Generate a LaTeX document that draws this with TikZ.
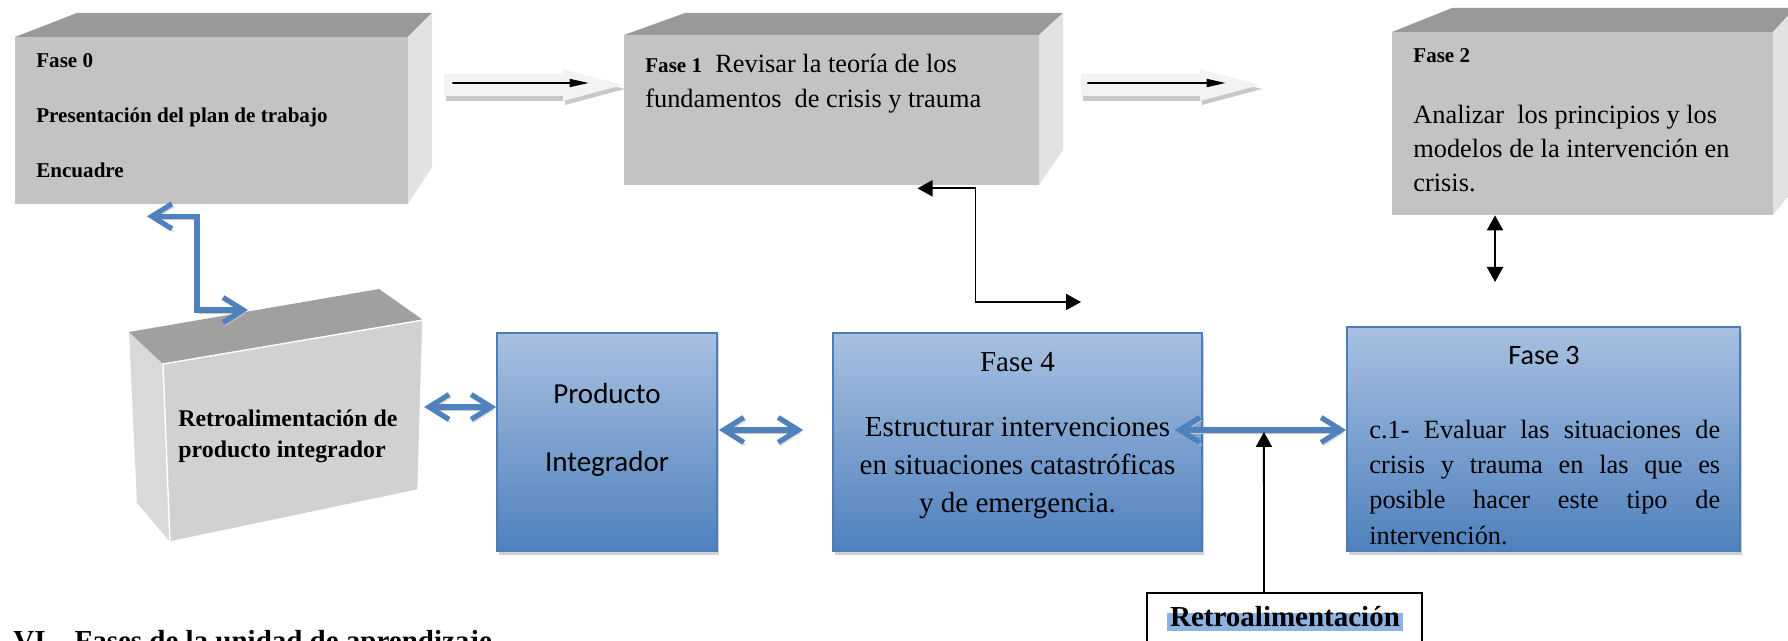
\documentclass[tikz,border=0pt]{standalone}
\usepackage{fontspec}
\setmainfont{Liberation Serif}
\newfontfamily\calibri{Carlito}
\usetikzlibrary{calc,fit,arrows.meta,shadows}
\definecolor{greyfront}{RGB}{195,195,195}
\definecolor{greytop}{RGB}{153,153,153}
\definecolor{greyside}{RGB}{226,226,226}
\definecolor{retrofront}{RGB}{209,209,209}
\definecolor{retrotop}{RGB}{160,160,160}
\definecolor{retroside}{RGB}{217,217,217}
\definecolor{bluetop}{RGB}{168,192,225}
\definecolor{bluebot}{RGB}{79,129,189}
\definecolor{blueline}{RGB}{74,126,187}
\definecolor{hlblue}{RGB}{141,179,226}
\definecolor{arrowlight}{RGB}{243,243,243}
\definecolor{arrowshade}{RGB}{200,200,200}

\begin{document}
\begin{tikzpicture}[x=0.02cm, y=-0.02cm,
    grisbox/.style={fill=greyfront, inner sep=0},
    bluebox/.style={draw=blueline, line width=1pt, top color=bluetop, bottom color=bluebot, inner sep=0,
      drop shadow={shadow xshift=1pt, shadow yshift=-2.5pt, fill=black!18, opacity=1}},
    txt/.style={inner sep=0, align=left},
    bluearr/.style={draw=bluebot, line width=3pt, >={Straight Barb[length=0.4cm,width=0.5cm]}, <->,
      preaction={draw=black!22, transform canvas={shift={(1.2pt,-1.7pt)}}}},
    blk/.style={line width=1.1pt, >={Triangle[length=0.3cm,width=0.32cm]}},
    flecha/.style={line width=0.9pt, >={Triangle[length=0.38cm,width=0.16cm]}, ->}]
    \useasboundingbox (0,0) rectangle (1788,641);

    \fill[greytop] (15,37) -- (77,13) -- (432,13) -- (408,37) -- cycle;
    \fill[greyside] (408,37) -- (432,13) -- (432,167) -- (408,204) -- cycle;
    \node[grisbox, fit={(15,37) (408,204)}] (fase0) {};
    \node[txt, anchor=north west, font=\bfseries\fontsize{12}{31.3}\selectfont] (fase0txt) at (36,53)
        {Fase 0\\Presentación del plan de trabajo\\Encuadre};

    \fill[greytop] (624,35) -- (685,13) -- (1063,13) -- (1039,35) -- cycle;
    \fill[greyside] (1039,35) -- (1063,13) -- (1063,150) -- (1039,185) -- cycle;
    \node[grisbox, fit={(624,35) (1039,185)}] (fase1) {};
    \node[txt, anchor=north west, font=\fontsize{15}{20}\selectfont] (fase1txt) at (645,54)
        {{\bfseries\fontsize{12}{20}\selectfont Fase 1}\ \ Revisar la teoría de los\\fundamentos\ \ de crisis y trauma};

    \fill[greytop] (1392,32) -- (1452,8) -- (1795,8) -- (1773,32) -- cycle;
    \fill[greyside] (1773,32) -- (1795,8) -- (1795,188) -- (1773,215) -- cycle;
    \node[grisbox, fit={(1392,32) (1773,215)}] (fase2) {};
    \node[txt, anchor=north west, font=\bfseries\fontsize{12}{14}\selectfont] (fase2lbl) at (1413,48) {Fase 2};
    \node[txt, anchor=north west, font=\fontsize{15}{19.3}\selectfont] (fase2txt) at (1413,105)
        {Analizar\ \ los principios y los\\modelos de la intervención en\\crisis.};

    \fill[retroside] (129,332) -- (163,364) -- (170,542) -- (137,503) -- cycle;
    \fill[retrotop] (129,332) -- (379,289) -- (423,320) -- (163,364) -- cycle;
    \filldraw[fill=retrofront, draw=white, line width=0.8pt] (163,364) -- (423,320) -- (418,490) -- (170,542) -- cycle;
    \node[txt, anchor=north west, font=\bfseries\fontsize{13.6}{17.6}\selectfont] (retro) at (178,410)
        {Retroalimentación de\\producto integrador};
    \coordinate (retrotope) at (248,310);

    \node[bluebox, fit={(497,333) (717,551)}] (producto) {};
    \node[txt, align=center, anchor=north, font=\calibri\fontsize{16.5}{38.7}\selectfont] (productotxt) at (607,383)
        {Producto\\Integrador};
    \node[bluebox, fit={(833,333) (1202,551)}] (fase4) {};
    \node[inner sep=0, anchor=base, font=\fontsize{16.5}{20}\selectfont] (fase4lbl) at (1017.5,372) {Fase 4};
    \node[txt, align=center, anchor=north, font=\fontsize{16.5}{21.6}\selectfont] (fase4txt) at (1017.5,417)
        {Estructurar intervenciones\\en situaciones catastróficas\\y de emergencia.};
    \node[bluebox, fit={(1347,327) (1740,551)}] (fase3) {};
    \node[inner sep=0, anchor=base, font=\calibri\fontsize{16}{20}\selectfont] (fase3lbl) at (1544,365) {Fase 3};
    \node[inner sep=0, anchor=north west, text width=199.7pt, align=justify, font=\fontsize{15}{20}\selectfont] (fase3txt) at (1369,420)
        {c.1- Evaluar las situaciones de\linebreak crisis y trauma en las que es\linebreak posible hacer este tipo de\linebreak intervención.};

    \node[draw, line width=1.1pt, inner sep=0, fit={(1147,593) (1422,700)}] (retro2) {};
    \node[fill=hlblue, inner xsep=2pt, inner ysep=0, text height=0.75em, text depth=0.22em,
        font=\bfseries\fontsize{16.5}{20}\selectfont] (retro2txt) at (1285,622) {Retroalimentación};
    \node[inner sep=0, anchor=base west, font=\bfseries\fontsize{16.5}{20}\selectfont] (titulo) at (13,650)
        {VI.\ \ \ Fases de la unidad de aprendizaje};

    \fill[arrowshade] (446,79) -- (565,79) -- (565,74) -- (625,89) -- (565,105) -- (565,101) -- (446,101) -- cycle;
    \fill[arrowlight] (444,74) -- (563,74) -- (563,69) -- (623,85) -- (563,101) -- (563,96) -- (444,96) -- cycle;
    \fill[arrowshade] (1083,79) -- (1202,79) -- (1202,74) -- (1262,89) -- (1202,105) -- (1202,101) -- (1083,101) -- cycle;
    \fill[arrowlight] (1081,74) -- (1200,74) -- (1200,69) -- (1260,85) -- (1200,101) -- (1200,96) -- (1081,96) -- cycle;
    \draw[flecha] ($(fase0.east)+(44,-37.5)$) -- ($(fase1.west)+(-35,-27)$);
    \draw[flecha] ($(fase1.east)+(48,-27)$) -- ($(fase2.west)+(-166,-40.5)$);

    \draw[bluearr] ($(fase0.south)+(-64.5,12)$) -- ++(50,0) |- (retrotope);
    \draw[bluearr] ($(producto.west)+(-72,-35)$) -- ($(producto.west)+(0,-35)$);
    \draw[bluearr] ($(producto.east)+(1,-12)$) -- ($(fase4.west)+(-29,-12)$);
    \draw[bluearr] ($(fase4.east)+(-28,-12)$) -- coordinate[pos=0.52] (junta) ($(fase3.west)+(0,-9)$);

    \coordinate (c1) at (1081,302);
    \coordinate (c2) at (1495,282);
    \draw[blk, <->] ($(fase1.south)+(86,3)$) -- ++(58,0) |- (c1);
    \draw[blk, <->] ($(fase2.south)+(-87.5,0)$) -- (c2);
    \draw[blk, ->] ($(retro2.north)+(-20.5,0)$) -- ($(junta)+(0,2)$);
\end{tikzpicture}
\end{document}
